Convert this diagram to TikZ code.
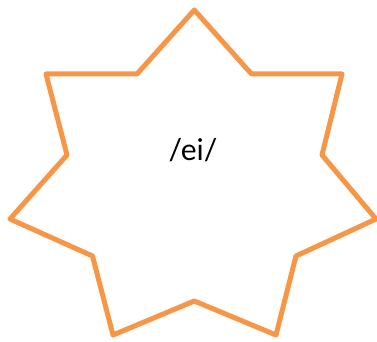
\documentclass[tikz,border=0pt]{standalone}
\usepackage{fontspec}
\setmainfont{Lato}
\definecolor{starorange}{HTML}{F79646}
\tikzset{starline/.style={draw=starorange,line width=5pt,line join=round,line cap=round}}
\begin{document}
\begin{tikzpicture}[x=1pt,y=-1pt]
\useasboundingbox (0,0) rectangle (377,342);
\coordinate (o1) at (194.3,10);
\coordinate (i1) at (251.5,74);
\coordinate (o2) at (342,74);
\coordinate (i2) at (322,155);
\coordinate (o3) at (376,219);
\coordinate (i3) at (296,256);
\coordinate (o4) at (276,335);
\coordinate (i4) at (194.3,301);
\coordinate (o5) at (113,335);
\coordinate (i5) at (92.5,256);
\coordinate (o6) at (10,219);
\coordinate (i6) at (67,155);
\coordinate (o7) at (46,74);
\coordinate (i7) at (137,74);
\draw[starline] (o1) -- (i1) -- (o2) -- (i2) -- (o3) -- (i3) -- (o4) -- (i4) -- (o5) -- (i5) -- (o6) -- (i6) -- (o7) -- (i7) -- cycle;
\node[font=\fontsize{30}{34}\selectfont] (lbl) at (193,150) {/ei/};
\end{tikzpicture}
\end{document}
